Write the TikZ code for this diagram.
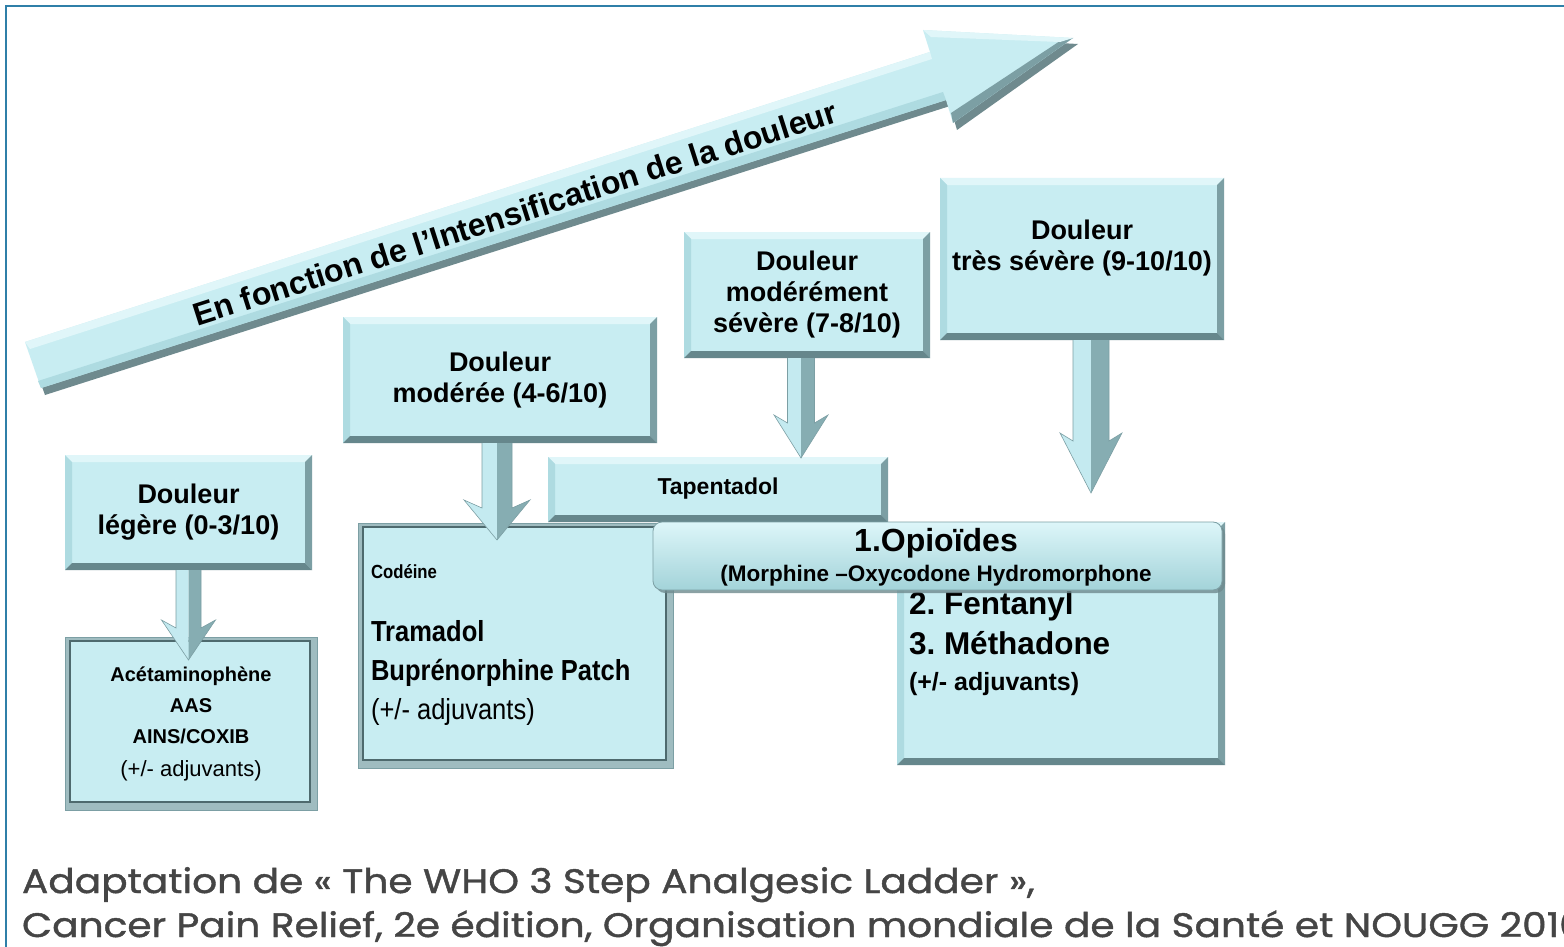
\documentclass[tikz,border=0pt]{standalone}
\usepackage{fontspec}
\setmainfont{Liberation Sans}
\newfontfamily\capfont[FakeStretch=1.15,FakeBold=1.2]{Poppins}
\newfontfamily\narrowfont[FakeStretch=0.88]{Liberation Sans}
\usetikzlibrary{calc,shadows}
\definecolor{boxfill}{HTML}{C8EDF2}
\definecolor{bvtop}{HTML}{E0F6F9}
\definecolor{bvleft}{HTML}{AEDBE1}
\definecolor{bvright}{HTML}{7C9FA4}
\definecolor{bvbot}{HTML}{66878C}
\definecolor{panelgrey}{HTML}{9FBCC0}
\definecolor{panelline}{HTML}{4E6A6E}
\definecolor{arlight}{HTML}{C4EAF0}
\definecolor{ardark}{HTML}{86ADB2}
\definecolor{arshadow}{HTML}{6F8A8E}
\definecolor{framec}{HTML}{2F7FA8}
\definecolor{captext}{HTML}{454545}
\definecolor{hdrtop}{HTML}{DDF6F9}
\definecolor{hdrbot}{HTML}{A3D3D9}
\tikzset{
  bevelbox/.style={fill=boxfill, inner sep=0pt, outer sep=0pt, align=center,
    font=\fontsize{27}{31}\selectfont\bfseries,
    path picture={
      \fill[bvtop] (path picture bounding box.north west) -- (path picture bounding box.north east)
        -- ([xshift=-7pt,yshift=-7pt]path picture bounding box.north east)
        -- ([xshift=7pt,yshift=-7pt]path picture bounding box.north west) -- cycle;
      \fill[bvleft] (path picture bounding box.north west) -- ([xshift=7pt,yshift=-7pt]path picture bounding box.north west)
        -- ([xshift=7pt,yshift=7pt]path picture bounding box.south west) -- (path picture bounding box.south west) -- cycle;
      \fill[bvright] (path picture bounding box.north east) -- (path picture bounding box.south east)
        -- ([xshift=-7pt,yshift=7pt]path picture bounding box.south east)
        -- ([xshift=-7pt,yshift=-7pt]path picture bounding box.north east) -- cycle;
      \fill[bvbot] (path picture bounding box.south west) -- (path picture bounding box.south east)
        -- ([xshift=-7pt,yshift=7pt]path picture bounding box.south east)
        -- ([xshift=7pt,yshift=7pt]path picture bounding box.south west) -- cycle;
    }},
  panel/.style={fill=panelgrey, draw=bvright, line width=1pt, inner sep=0pt, outer sep=0pt, align=center,
    path picture={
      \fill[boxfill, draw=panelline, line width=1.2pt]
        ([xshift=5pt,yshift=-4pt]path picture bounding box.north west)
        rectangle ([xshift=-7pt,yshift=8pt]path picture bounding box.south east);
    }},
  hdr/.style={rounded corners=9pt, top color=hdrtop, bottom color=hdrbot, draw=bvright, line width=0.8pt,
    inner sep=0pt, outer sep=0pt,
    drop shadow={shadow xshift=3pt, shadow yshift=-3pt, fill=arshadow, opacity=0.8}},
  txt/.style={inner sep=0pt, outer sep=0pt},
}
\newcommand\blockarrow[5]{%
  \fill[arlight] let \p1=(#1), \p2=(#2) in
    (\x1-#3,\y1) -- (\x1,\y1) -- (\x1,\y2) -- (\x1-#4,\y2+#5) -- (\x1-#3,\y2+#5-8pt) -- cycle;
  \fill[ardark] let \p1=(#1), \p2=(#2) in
    (\x1,\y1) -- (\x1+#3,\y1) -- (\x1+#3,\y2+#5-8pt) -- (\x1+#4,\y2+#5) -- (\x1,\y2) -- cycle;
  \draw[bvright, line width=0.6pt] let \p1=(#1), \p2=(#2) in
    (\x1-#3,\y1) -- (\x1-#3,\y2+#5-8pt) -- (\x1-#4,\y2+#5) -- (\x1,\y2) -- (\x1+#4,\y2+#5) -- (\x1+#3,\y2+#5-8pt) -- (\x1+#3,\y1);
}
\begin{document}
\begin{tikzpicture}[x=1pt,y=-1pt]
\useasboundingbox (0,0) rectangle (1564,947);
\clip (0,0) rectangle (1564,947);
\fill[white] (0,0) rectangle (1564,947);
\draw[framec, line width=2pt] (6,950) -- (6,6) -- (1570,6);

% big diagonal arrow
\fill[arshadow] (28,348) -- (933,58) -- (926,36) -- (1078,44) -- (957,130) -- (950,106) -- (45,395) -- cycle;
\fill[boxfill] (25,342) -- (930,52) -- (923,30) -- (1073,38) -- (953,123) -- (946,100) -- (41,388) -- cycle;
\fill[bvtop] (25,342) -- (930,52) -- (932,59) -- (30,349) -- cycle;
\fill[bvleft] (41,388) -- (946,100) -- (943,92) -- (38,381) -- cycle;
\fill[bvright] (1073,38) -- (953,123) -- (951,113) -- (1060,41) -- cycle;
\fill[bvtop] (923,30) -- (1073,38) -- (1060,42) -- (931,37) -- cycle;
\node[txt, rotate=17.7, font=\fontsize{32}{36}\selectfont\bfseries] (artxt) at (515,213)
  {En fonction de l’Intensification de la douleur};

% step boxes
\node[bevelbox, minimum width=247pt, minimum height=115pt] (b1) at (188.5,512.5) {Douleur\\légère (0-3/10)};
\node[panel, minimum width=252pt, minimum height=173pt, font=\fontsize{20}{31}\selectfont] (b2) at (191,723.5)
  {\bfseries Acétaminophène\\\bfseries AAS\\\bfseries AINS/COXIB\\[2pt]{\fontsize{22}{26}\selectfont(+/- adjuvants)}};
\node[bevelbox, minimum width=314pt, minimum height=126pt] (b4) at (500,380) {Douleur\\modérée (4-6/10)};
\node[panel, minimum width=315pt, minimum height=245pt] (b5) at (515.5,645.5) {};
\node[txt, anchor=west, font=\narrowfont\fontsize{19}{22}\selectfont\bfseries] (cod) at (371,572) {Codéine};
\node[txt, anchor=north west, align=left, font=\narrowfont\fontsize{29}{39}\selectfont] (tra) at (371,620)
  {\bfseries Tramadol\\\bfseries Buprénorphine Patch\\(+/- adjuvants)};
\node[bevelbox, minimum width=246pt, minimum height=126pt] (b6) at (807,295) {Douleur\\modérément\\sévère (7-8/10)};
\node[bevelbox, minimum width=284pt, minimum height=162pt] (b7) at (1082,259) {};
\node[txt, align=center, font=\fontsize{27}{31}\selectfont\bfseries] (t7) at (1082,248) {Douleur\\très sévère (9-10/10)};
\node[bevelbox, minimum width=340pt, minimum height=65pt, font=\fontsize{23}{27}\selectfont\bfseries] (b8) at (718,489.5)
  {\raisebox{7pt}{Tapentadol}};
\node[bevelbox, minimum width=328pt, minimum height=243pt] (b9) at (1061,643.5) {};
\node[txt, anchor=north west, align=left, font=\fontsize{31.5}{40}\selectfont\bfseries] (fen) at (909,592)
  {2.~Fentanyl\\3.~Méthadone};
\node[txt, anchor=west, font=\fontsize{25}{29}\selectfont\bfseries] (adj) at (909,684) {(+/- adjuvants)};
\node[hdr, minimum width=569pt, minimum height=68pt] (b10) at (937.5,556) {};
\node[txt, font=\fontsize{32}{36}\selectfont\bfseries] (op1) at (936,543) {1.Opioïdes};
\node[txt, font=\fontsize{22.5}{26}\selectfont\bfseries] (op2) at (936,576) {(Morphine –Oxycodone Hydromorphone};

% arrows between steps
\blockarrow{b1.south}{$(b1.south |- b2.north)+(0,23)$}{12.5pt}{27pt}{40pt}
\blockarrow{$(b4.south)+(-3,0)$}{$(b4.south |- b5.north)+(-3,17)$}{15pt}{33pt}{40pt}
\blockarrow{$(b6.south)+(-6,0)$}{$(b6.south |- b8.north)+(-6,1)$}{13.5pt}{27pt}{43pt}
\blockarrow{$(b7.south)+(9,0)$}{$(b7.south |- b9.north)+(9,-29)$}{18pt}{31pt}{60pt}

% caption
\node[txt, anchor=base west, text=captext, font=\capfont\fontsize{34}{38}\selectfont] (cap1) at (22,893)
  {Adaptation de « The WHO 3 Step Analgesic Ladder »,};
\node[txt, anchor=base west, text=captext, font=\capfont\fontsize{34}{38}\selectfont] (cap2) at (22,937)
  {Cancer Pain Relief, 2e édition, Organisation mondiale de la Santé et  NOUGG 2010};
\end{tikzpicture}
\end{document}
